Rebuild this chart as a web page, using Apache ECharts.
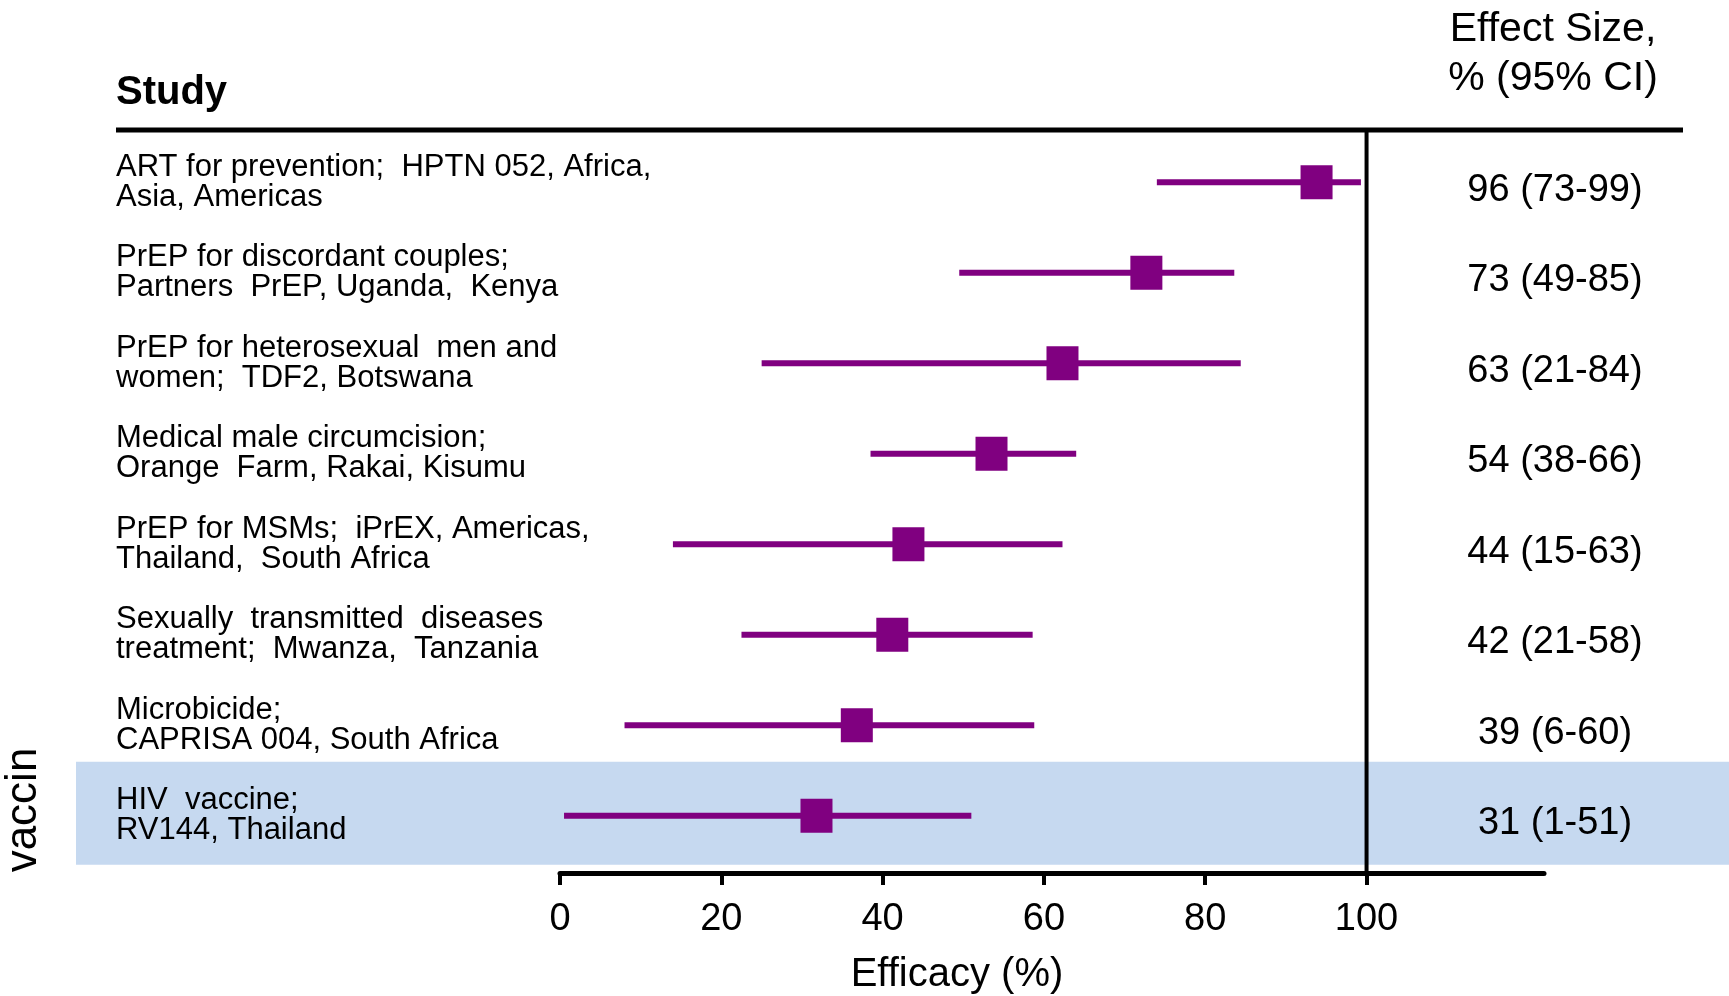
<!DOCTYPE html>
<html>
<head>
<meta charset="utf-8">
<script src="https://cdn.jsdelivr.net/npm/echarts@6/dist/echarts.min.js"></script>
<style>
  html, body { margin: 0; padding: 0; background: #fff; }
  #chart { width: 1729px; height: 996px; }
</style>
</head>
<body>
<div id="chart"></div>
<script>
(function () {
    'use strict';

    // study rows, top to bottom
    var studies = [
        'ART for prevention;  HPTN 052, Africa,\nAsia, Americas',
        'PrEP for discordant couples;\nPartners  PrEP, Uganda,  Kenya',
        'PrEP for heterosexual  men and\nwomen;  TDF2, Botswana',
        'Medical male circumcision;\nOrange  Farm, Rakai, Kisumu',
        'PrEP for MSMs;  iPrEX, Americas,\nThailand,  South Africa',
        'Sexually  transmitted  diseases\ntreatment;  Mwanza,  Tanzania',
        'Microbicide;\nCAPRISA 004, South Africa',
        'HIV  vaccine;\nRV144, Thailand'
    ];

    // plotted point estimate and CI ends
    var pointEst = [93.8, 72.7, 62.3, 53.5, 43.2, 41.2, 36.8, 31.8];
    var ciLow = [74, 49.5, 25, 38.5, 14, 22.5, 8, 0.5];
    var ciHigh = [99.3, 83.6, 84.4, 64, 62.3, 58.6, 58.8, 51];

    // reported effect size, % (95% CI)
    var effect = [96, 73, 63, 54, 44, 42, 39, 31];
    var effectLo = [73, 49, 21, 38, 15, 21, 6, 1];
    var effectHi = [99, 85, 84, 66, 63, 58, 60, 51];

    var xTicks = [0, 20, 40, 60, 80, 100];

    var purple = '#800080';
    var font = '"Liberation Sans", Arial, sans-serif';

    var effectLabels = effect.map(function (v, i) {
        return v + ' (' + effectLo[i] + '-' + effectHi[i] + ')';
    });
    var squareData = pointEst.map(function (v, i) { return [v, i]; });
    var whiskerData = ciLow.map(function (v, i) { return [v, ciHigh[i], i]; });
    var effectData = effectLabels.map(function (s, i) { return [0, i, s]; });

    var myChart = echarts.init(document.getElementById('chart'));

    var option = {
        animation: false,
        grid: { left: 560, right: 185, top: 137, height: 724, outerBoundsMode: 'none' },
        xAxis: {
            type: 'value',
            min: 0,
            max: 122,
            interval: 20,
            offset: 12,
            name: 'Efficacy (%)',
            nameLocation: 'middle',
            nameGap: 82,
            nameTextStyle: { fontFamily: font, fontSize: 40, color: '#000', padding: [0, 190, 0, 0] },
            axisLine: { show: true, lineStyle: { color: '#000', width: 5 } },
            axisTick: { show: true, length: 12, customValues: xTicks, lineStyle: { color: '#000', width: 4 } },
            axisLabel: { customValues: xTicks, fontFamily: font, fontSize: 38, color: '#000', margin: 28 },
            splitLine: { show: false }
        },
        yAxis: {
            type: 'category',
            data: studies,
            inverse: true,
            axisLine: { show: false },
            axisTick: { show: false },
            axisLabel: { align: 'left', margin: 444, fontFamily: font, fontSize: 31, lineHeight: 30, color: '#000' }
        },
        series: [{
            type: 'custom',
            data: whiskerData,
            encode: { x: [0, 1], y: 2 },
            z: 3,
            renderItem: function (params, api) {
                var a = api.coord([api.value(0), api.value(2)]);
                var b = api.coord([api.value(1), api.value(2)]);
                return {
                    type: 'line',
                    shape: { x1: a[0], y1: a[1], x2: b[0], y2: b[1] },
                    style: { stroke: purple, lineWidth: 6 }
                };
            }
        }, {
            type: 'scatter',
            data: squareData,
            symbol: 'rect',
            symbolSize: [32, 34],
            itemStyle: { color: purple, opacity: 1 },
            z: 4
        }, {
            // effect size column, just right of the plot area
            type: 'custom',
            data: effectData,
            encode: { x: 0, y: 1 },
            clip: false,
            renderItem: function (params, api) {
                var p = api.coord([0, api.value(1)]);
                var cs = params.coordSys;
                return {
                    type: 'text',
                    x: cs.x + cs.width + 11,
                    y: p[1] + 8,
                    style: {
                        text: effectLabels[params.dataIndex],
                        font: '38px ' + font,
                        fill: '#000',
                        align: 'center',
                        verticalAlign: 'middle'
                    }
                };
            }
        }]
    };
    myChart.setOption(option);

    // decorations placed from the axis scales
    var x100 = myChart.convertToPixel({ xAxisIndex: 0 }, 100);
    var yLast = myChart.convertToPixel({ yAxisIndex: 0 }, studies[studies.length - 1]);
    myChart.setOption({
        graphic: [{
            type: 'rect',
            z: -10,
            shape: { x: 76, y: yLast - 54, width: 1653, height: 103 },
            style: { fill: '#c6d9f0' }
        }, {
            type: 'line',
            z: 10,
            shape: { x1: 116, y1: 130, x2: 1683, y2: 130 },
            style: { stroke: '#000', lineWidth: 5 }
        }, {
            type: 'line',
            z: 10,
            shape: { x1: x100, y1: 130, x2: x100, y2: 874 },
            style: { stroke: '#000', lineWidth: 4 }
        }, {
            type: 'text',
            x: 116, y: 93,
            style: { text: 'Study', font: 'bold 40px ' + font, fill: '#000', textVerticalAlign: 'middle' }
        }, {
            type: 'text',
            x: 1553, y: 30,
            style: { text: 'Effect Size,', font: '41px ' + font, fill: '#000', textAlign: 'center', textVerticalAlign: 'middle' }
        }, {
            type: 'text',
            x: 1553, y: 79,
            style: { text: '% (95% CI)', font: '41px ' + font, fill: '#000', textAlign: 'center', textVerticalAlign: 'middle' }
        }, {
            type: 'text',
            x: 24, y: 810,
            rotation: Math.PI / 2,
            style: { text: 'vaccin', font: '44px ' + font, fill: '#000', textAlign: 'center', textVerticalAlign: 'middle' }
        }]
    });
})();
</script>
</body>
</html>
